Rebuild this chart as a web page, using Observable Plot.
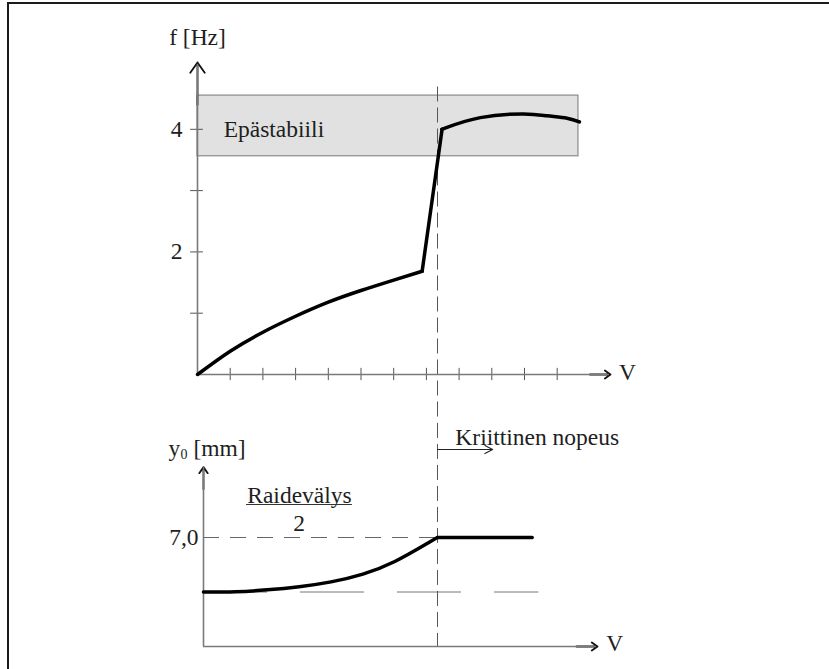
<!DOCTYPE html>
<html><head><meta charset="utf-8">
<script src="https://cdn.jsdelivr.net/npm/d3@7"></script>
<script src="https://cdn.jsdelivr.net/npm/@observablehq/plot@0.6"></script>
<style>
body{margin:0;background:#fff;}
#wrap{position:relative;width:829px;height:669px;overflow:hidden;background:#fff;}
#frame{position:absolute;left:7px;top:2px;right:-10px;bottom:-10px;border-top:2px solid #1b1b1b;border-left:2px solid #1b1b1b;}
.p{position:absolute;left:0;}
.p svg{overflow:visible;background:transparent;}
</style></head><body>
<div id="wrap"><div id="frame"></div><div id="top" class="p" style="top:0"></div><div id="bot" class="p" style="top:420px"></div></div>
<script>
// ---- data ----
const vCrit = 7.34;
// upper chart: frequency f [Hz] vs speed V
const lowV = [0, 1, 2, 3, 4, 5, 6, 6.87];
const lowF = [0, 0.38, 0.69, 0.95, 1.18, 1.37, 1.54, 1.685];
const jumpV = [6.87, 7.48];
const jumpF = [1.685, 4.0];
const highV = [7.48, 7.63, 8.65, 9.97, 10.69, 11.3, 11.68];
const highF = [4.0, 4.03, 4.19, 4.25, 4.22, 4.18, 4.12];
const bandF = [3.56, 4.55];
const bandV = [0, 11.65];
const xTicks = [1, 2, 3, 4, 5, 6, 7, 8, 9, 10, 11];
const yTicks = [1, 2, 3, 4];
const yTickLabelVals = [2, 4];
const yTickLabels = ["2", "4"];
// lower chart: y0 [mm] vs V
const ampV = [0, 1, 2, 3, 4, 5, 6, 7, 7.34];
const ampY = [3.5, 3.52, 3.64, 3.84, 4.15, 4.65, 5.46, 6.6, 7.0];
const flatV = [7.34, 10.31];
const flatY = [7.0, 7.0];
const limitY = 7.0;
const baseY = 3.5;

const serif = "'Liberation Serif','Times New Roman',serif";
const axisColor = "#7a7a7a";
const txt = "#1e1e1e";
const fs = 23.5;

// ---- upper plot ----
const topPlot = Plot.plot({
  width: 829, height: 420,
  x: {domain: [0, 14], range: [197, 197 + 32.7 * 14], axis: null},
  y: {domain: [0, 5.5], range: [374, 374 - 61.3 * 5.5], axis: null},
  marks: [
    Plot.rect([0], {x1: bandV[0], x2: bandV[1], y1: bandF[0], y2: bandF[1], fill: "#e1e1e1", stroke: "#8a8a8a", strokeWidth: 1.2}),
    Plot.ruleX([vCrit], {y1: 4.69, y2: -0.75, stroke: "#555", strokeWidth: 1, strokeDasharray: "15,6"}),
    Plot.ruleX(xTicks, {y1: -0.1, y2: 0.1, stroke: "#555", strokeWidth: 1}),
    Plot.ruleY(yTicks, {x1: -0.21, x2: 0.18, stroke: "#555", strokeWidth: 1}),
    Plot.arrow([0], {x1: 12.0, y1: 0, x2: 12.63, y2: 0, stroke: "#111", strokeWidth: 1.8, headLength: 10.5, headAngle: 70}),
    Plot.arrow([0], {x1: 0, y1: 4.4, x2: 0, y2: 5.09, stroke: "#111", strokeWidth: 1.8, headLength: 10.5, headAngle: 70}),
    Plot.ruleY([0], {x1: 0, x2: 12.6, stroke: axisColor, strokeWidth: 1.6}),
    Plot.ruleX([0], {y1: 0, y2: 5.06, stroke: axisColor, strokeWidth: 1.6}),
    Plot.line(lowV, {x: lowV, y: lowF, curve: "natural", stroke: "#000", strokeWidth: 3.5}),
    Plot.line(jumpV, {x: jumpV, y: jumpF, stroke: "#000", strokeWidth: 3.5}),
    Plot.line(highV, {x: highV, y: highF, curve: "natural", stroke: "#000", strokeWidth: 3.5}),
    Plot.text(yTickLabelVals, {x: 0, y: d => d, text: (d, i) => yTickLabels[i], textAnchor: "end", dx: -15, fontSize: fs, fontFamily: serif, fill: txt}),
    Plot.text(["f [Hz]"], {x: 0, y: 5.5, text: d => d, fontSize: fs, fontFamily: serif, fill: txt}),
    Plot.text(["V"], {x: 13.15, y: 0.03, text: d => d, fontSize: fs, fontFamily: serif, fill: txt}),
    Plot.text(["Epästabiili"], {x: 0.8, y: 4.0, text: d => d, textAnchor: "start", fontSize: fs, fontFamily: serif, fill: txt})
  ]
});
document.getElementById("top").appendChild(topPlot);

// ---- lower plot ----
const botPlot = Plot.plot({
  width: 829, height: 249,
  x: {domain: [0, 14], range: [203, 203 + 31.88 * 14], axis: null},
  y: {domain: [0, 13], range: [226, 226 - 15.57 * 13], axis: null},
  marks: [
    Plot.ruleY([limitY], {x1: 0, x2: vCrit, stroke: "#666", strokeWidth: 1, strokeDasharray: "16,11"}),
    Plot.ruleY([baseY], {x1: 0, x2: 10.52, stroke: "#777", strokeWidth: 1, strokeDasharray: "64,33"}),
    Plot.ruleX([vCrit], {y1: 14.5, y2: 0, stroke: "#555", strokeWidth: 1, strokeDasharray: "15,6", strokeDashoffset: 18.3}),
    Plot.arrow([0], {x1: 11.7, y1: 0, x2: 12.36, y2: 0, stroke: "#111", strokeWidth: 1.8, headLength: 10.5, headAngle: 70}),
    Plot.arrow([0], {x1: 0, y1: 10.1, x2: 0, y2: 11.52, stroke: "#111", strokeWidth: 1.8, headLength: 10.5, headAngle: 70}),
    Plot.ruleY([0], {x1: 0, x2: 12.33, stroke: axisColor, strokeWidth: 1.6}),
    Plot.ruleX([0], {y1: 0, y2: 11.48, stroke: axisColor, strokeWidth: 1.6}),
    Plot.line(ampV, {x: ampV, y: ampY, curve: "natural", stroke: "#000", strokeWidth: 3.5}),
    Plot.line(flatV, {x: flatV, y: flatY, stroke: "#000", strokeWidth: 3.5}),
    Plot.arrow([0], {x1: vCrit, y1: 12.65, x2: 9.07, y2: 12.65, stroke: "#222", strokeWidth: 1.1, headLength: 12, headAngle: 55}),
    Plot.text(["Kriittinen nopeus"], {x: 7.9, y: 13.4, text: d => d, textAnchor: "start", fontSize: fs, fontFamily: serif, fill: txt}),
    Plot.text(["7,0"], {x: 0, y: limitY, text: d => d, textAnchor: "end", dx: -5, fontSize: fs, fontFamily: serif, fill: txt}),
    Plot.text(["y"], {x: -1.1, y: 12.7, text: d => d, textAnchor: "start", fontSize: fs, fontFamily: serif, fill: txt}),
    Plot.text(["0"], {x: -1.1, y: 12.7, text: d => d, textAnchor: "start", dx: 12, dy: 6, fontSize: 14, fontFamily: serif, fill: txt}),
    Plot.text(["[mm]"], {x: -1.1, y: 12.7, text: d => d, textAnchor: "start", dx: 25, fontSize: fs, fontFamily: serif, fill: txt}),
    Plot.text(["Raidevälys"], {x: 3.01, y: 9.7, text: d => d, fontSize: fs, fontFamily: serif, fill: txt}),
    Plot.ruleY([9.12], {x1: 1.35, x2: 4.67, stroke: "#333", strokeWidth: 1}),
    Plot.text(["2"], {x: 3.0, y: 7.92, text: d => d, fontSize: fs, fontFamily: serif, fill: txt}),
    Plot.text(["V"], {x: 12.9, y: 0.22, text: d => d, fontSize: fs, fontFamily: serif, fill: txt})
  ]
});
document.getElementById("bot").appendChild(botPlot);
</script>
</body></html>
